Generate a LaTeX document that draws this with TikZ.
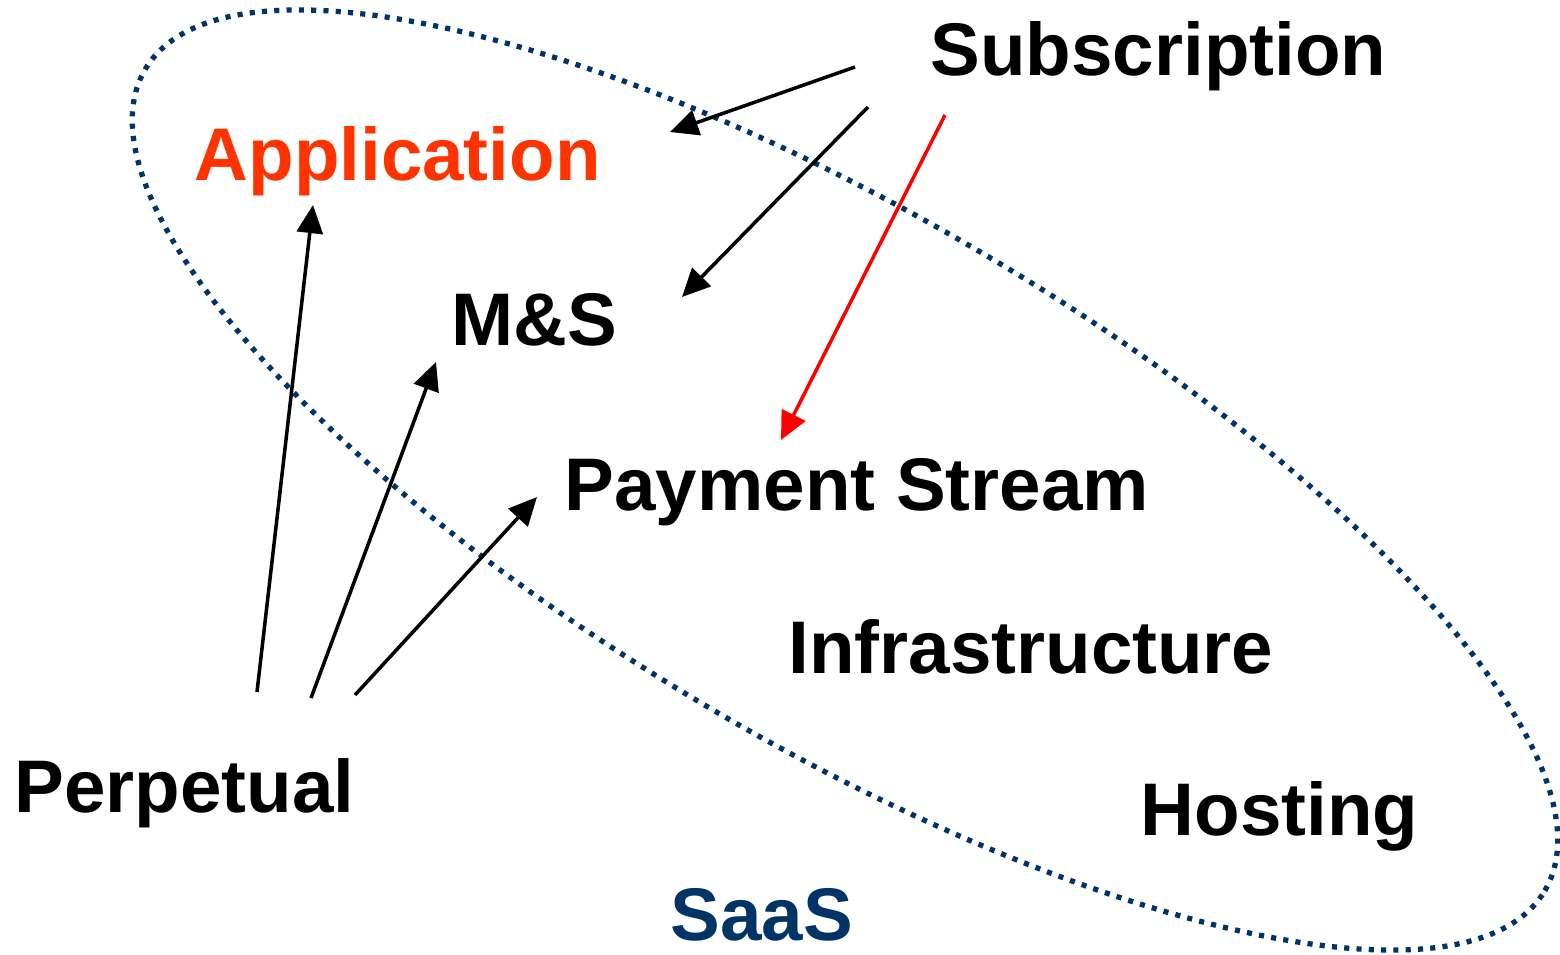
\documentclass[tikz,border=0pt]{standalone}
\usepackage{fontspec}
\setmainfont{Liberation Sans}
\usetikzlibrary{arrows.meta}
\definecolor{navy}{RGB}{0,51,102}
\definecolor{appred}{RGB}{255,51,0}
\definecolor{linkred}{RGB}{255,0,0}
\tikzset{
  label text/.style={font=\fontsize{21.2}{25}\selectfont\bfseries, inner sep=0pt, anchor=base west},
  link/.style={line width=1pt, -{Triangle[length=8pt,width=7.4pt]}},
  saas line/.style={navy, line width=1.5pt, dash pattern=on 1.45pt off 2.05pt, line cap=butt},
}
\begin{document}
\begin{tikzpicture}[x=0.01cm, y=-0.01cm]
\useasboundingbox (0,0) rectangle (1560,954);

% dotted boundary of the SaaS offering
\draw[saas line, rotate around={-30.4:(845,480)}] (845,480) ellipse [x radius=8.11cm, y radius=2.65cm];

% labels
\node[label text] (sub) at (930,75) {Subscription};
\node[label text, text=appred] (app) at (194,180) {Application};
\node[label text] (ms) at (451,345) {M\&S};
\node[label text] (pay) at (564,510) {Payment Stream};
\node[label text] (infra) at (788,673) {Infrastructure};
\node[label text] (host) at (1140,835) {Hosting};
\node[label text] (perp) at (14,812) {Perpetual};
\node[label text, text=navy] (saas) at (670,940) {SaaS};

% free ends of the connectors
\coordinate (s1) at (855,67);
\coordinate (s2) at (868,107);
\coordinate (s3) at (945,115);
\coordinate (t1) at (670,132);
\coordinate (t2) at (682,297);
\coordinate (t3) at (781,440);
\coordinate (p1) at (257,692);
\coordinate (p2) at (311,698);
\coordinate (p3) at (355,695);
\coordinate (u1) at (313,205);
\coordinate (u2) at (436,362);
\coordinate (u3) at (537,497);

% subscription links
\draw[link] (s1) -- (t1);
\draw[link] (s2) -- (t2);
\draw[link, linkred] (s3) -- (t3);

% perpetual links
\draw[link] (p1) -- (u1);
\draw[link] (p2) -- (u2);
\draw[link] (p3) -- (u3);
\end{tikzpicture}
\end{document}
